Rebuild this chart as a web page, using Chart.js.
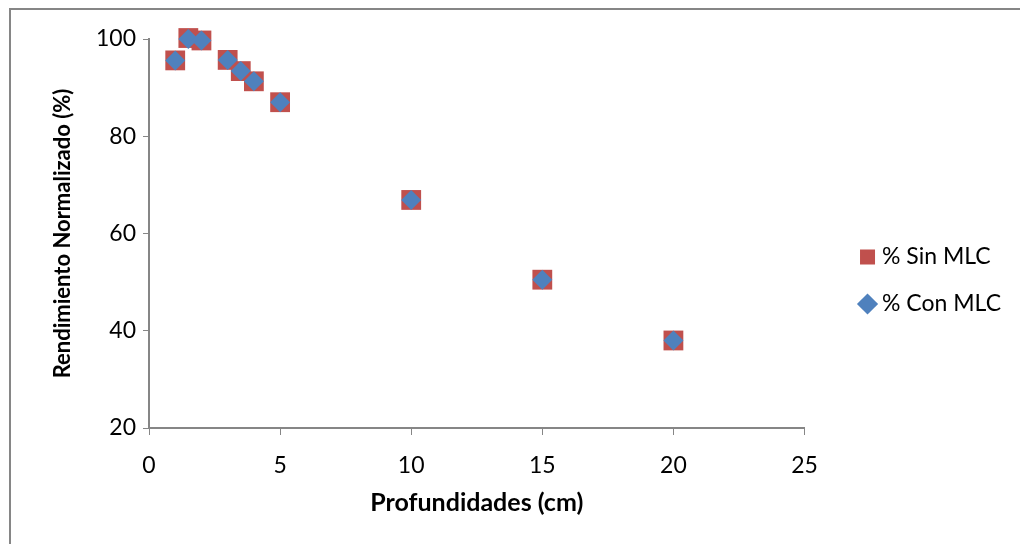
<!DOCTYPE html>
<html>
<head>
<meta charset="utf-8">
<script src="https://cdn.jsdelivr.net/npm/chart.js@4.4.1/dist/chart.umd.min.js"></script>
<style>
  body { margin: 0; background: #fff; }
  #wrap { position: relative; width: 1020px; height: 544px; }
  #frame { position: absolute; left: 9px; top: 8px; width: 1020px; height: 544px;
           border-top: 2px solid #868686; border-left: 2px solid #868686; pointer-events: none; }
</style>
</head>
<body>
<div id="wrap">
  <canvas id="chart" width="1020" height="544"></canvas>
  <div id="frame"></div>
</div>
<script>
// depths (cm) and normalised output (%)
const depths = [1, 1.5, 2, 3, 3.5, 4, 5, 10, 15, 20];
const sinMLC = [95.6, 100.2, 99.7, 95.7, 93.4, 91.3, 87.0, 66.9, 50.5, 38.0];
const conMLC = [95.6, 100.0, 99.7, 95.7, 93.4, 91.3, 87.0, 66.9, 50.5, 38.0];
const seriesNames = ["% Sin MLC", "% Con MLC"];
const xTitle = "Profundidades (cm)";
const yTitle = "Rendimiento Normalizado (%)";

function toPoints(xs, ys) {
    return xs.map((x, i) => ({ x: x, y: ys[i] }));
}

const axisGray = "#868686";
Chart.defaults.font.family = "Lato, 'Open Sans', sans-serif";
Chart.defaults.color = "#000";

// move the legend a bit to the right of the plot, like Excel does
const legendShift = {
    id: "legendShift",
    afterLayout(chart) {
        const lg = chart.legend;
        if (!lg) return;
        lg.left += 36;
        lg.right += 36;
        lg.top -= 3;
        lg.bottom -= 3;
    }
};

let ctx = document.getElementById("chart").getContext("2d");
let chart = new Chart(ctx, {
    type: "scatter",
    data: {
        datasets: [{
            label: seriesNames[0],
            data: toPoints(depths, sinMLC),
            order: 1,
            clip: false,
            pointStyle: "rect",
            pointRadius: 14,
            pointHoverRadius: 14,
            backgroundColor: "#C0504D",
            borderColor: "#C0504D",
            borderWidth: 0
        }, {
            label: seriesNames[1],
            data: toPoints(depths, conMLC),
            order: 0,
            clip: false,
            pointStyle: "rectRot",
            pointRadius: 10,
            pointHoverRadius: 10,
            backgroundColor: "#4F81BD",
            borderColor: "#4F81BD",
            borderWidth: 0
        }]
    },
    options: {
        responsive: false,
        animation: false,
        layout: { padding: { left: 10, top: 39, bottom: 16, right: 45 } },
        plugins: {
            tooltip: { enabled: false },
            legend: {
                position: "right",
                labels: {
                    usePointStyle: true,
                    boxWidth: 6,
                    boxHeight: 15,
                    padding: 24,
                    font: { size: 23 },
                    sort: (a, b) => a.datasetIndex - b.datasetIndex
                }
            }
        },
        scales: {
            x: {
                type: "linear",
                min: 0,
                max: 25,
                ticks: { stepSize: 5, padding: 17, font: { size: 23 } },
                grid: { drawOnChartArea: false, color: axisGray, tickLength: 7, tickColor: axisGray },
                border: { color: axisGray, width: 2 },
                title: { display: true, text: xTitle, font: { size: 25, weight: "bold" }, padding: { top: 0, bottom: 10 } },
                afterFit: s => { s.height = 100; }
            },
            y: {
                type: "linear",
                min: 20,
                max: 100,
                ticks: { stepSize: 20, padding: 7, font: { size: 23 } },
                grid: { drawOnChartArea: false, color: axisGray, tickLength: 6, tickColor: axisGray },
                border: { color: axisGray, width: 2 },
                title: { display: true, text: yTitle, font: { size: 22, weight: "bold" }, padding: { top: 40, bottom: 0 } },
                afterFit: s => { s.width = 139; }
            }
        }
    },
    plugins: [legendShift]
});
</script>
</body>
</html>
